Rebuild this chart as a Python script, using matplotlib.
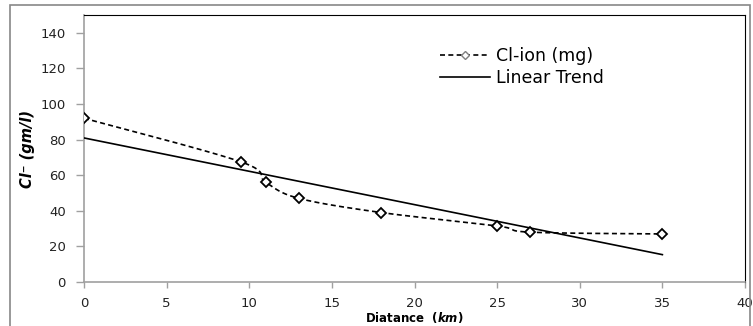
import numpy as np
import matplotlib
matplotlib.use("Agg")
import matplotlib.pyplot as plt
from matplotlib.patches import Rectangle
from matplotlib.lines import Line2D

distance = [0, 9.5, 11, 13, 18, 25, 27, 35]
cl_ion = [92, 67.5, 56, 47, 39, 31.5, 28, 27]
x_ticks = [0, 5, 10, 15, 20, 25, 30, 35, 40]
y_ticks = [0, 20, 40, 60, 80, 100, 120, 140]

plt.rcParams['font.family'] = ['DejaVu Sans']
plt.rcParams['mathtext.fontset'] = 'dejavusans'

fig = plt.figure(figsize=(7.53, 3.26), dpi=100)
L, R, T, B = 84, 745, 15, 282
ax = fig.add_axes([L/753, 1-B/326, (R-L)/753, (B-T)/326])
ax.set_xlim(0, 40)
ax.set_ylim(0, 150)

# smooth curve (Excel-style Bezier through points, in pixel-scaled space)
sx, sy = (R-L)/40.0, (B-T)/150.0
P = np.column_stack([np.array(distance)*sx, np.array(cl_ion)*sy])
n = len(P)
curve = []
t = np.linspace(0, 1, 30)
for i in range(n-1):
    p0 = P[i-1] if i > 0 else P[i]
    p1, p2 = P[i], P[i+1]
    p3 = P[i+2] if i+2 < n else P[i+1]
    c1 = p1 + (p2 - p0)/6.0
    c2 = p2 - (p3 - p1)/6.0
    seg = ((1-t)**3)[:, None]*p1 + (3*(1-t)**2*t)[:, None]*c1 + (3*(1-t)*t**2)[:, None]*c2 + (t**3)[:, None]*p2
    curve.append(seg if i == 0 else seg[1:])
curve = np.vstack(curve)
ax.plot(curve[:, 0]/sx, curve[:, 1]/sy, color='black', lw=1.2, dashes=(3, 2), zorder=3)
ax.plot(distance, cl_ion, linestyle='none', marker='D', markersize=5.5, mfc='white', mec='black', mew=1.3, zorder=4)

# linear trend
m, b = np.polyfit(distance, cl_ion, 1)
xs = np.array([min(distance), max(distance)])
ax.plot(xs, m*xs + b, color='black', lw=1.2, zorder=3)

# legend
h1 = Line2D([], [], color='black', lw=1.2, dashes=(3, 2), marker='D', markersize=4, mfc='white', mec='gray', mew=1)
h2 = Line2D([], [], color='black', lw=1.2)
leg = ax.legend([h1, h2], ['Cl-ion (mg)', 'Linear Trend'], loc='upper left',
                bbox_to_anchor=((433-L)/(R-L), (B-40)/(B-T)), frameon=False,
                fontsize=12.5, handlelength=2.9, handletextpad=0.3, labelspacing=0.25, borderaxespad=0)

ax.set_xticks(x_ticks)
ax.set_yticks(y_ticks)
ax.tick_params(axis='both', direction='out', color='#a0a0a0', width=1, labelsize=9.5, labelcolor='#222222')
ax.tick_params(axis='x', length=4, pad=7)
ax.tick_params(axis='y', length=6, pad=7)
for s in ['left', 'bottom']:
    ax.spines[s].set_color('#a0a0a0')
    ax.spines[s].set_linewidth(1.2)
for s in ['top', 'right']:
    ax.spines[s].set_color('black')
    ax.spines[s].set_linewidth(0.8)

ax.set_xlabel(r'Diatance  ($\mathbfit{km}$)', fontsize=8.5, fontweight='bold', labelpad=0)
ax.set_ylabel('Cl\u207b (gm/l)', fontsize=10.5, fontweight='bold', fontstyle='italic', labelpad=4)

fig.patches.append(Rectangle((10/753, -0.05), 740/753, 1.05 - 5/326, transform=fig.transFigure,
                             fill=False, edgecolor='#888888', lw=1.2))

fig.savefig('out.png', dpi=100)
